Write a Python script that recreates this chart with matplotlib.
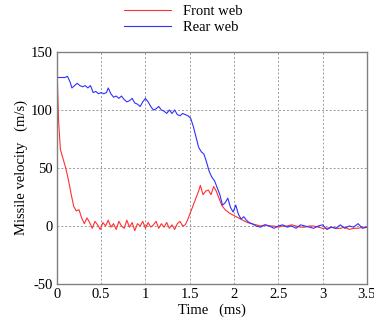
import numpy as np
import matplotlib.pyplot as plt

plt.rcParams['font.family'] = 'Liberation Serif'
plt.rcParams['axes.unicode_minus'] = False

# front web (red)
t_front = [0, 0.005, 0.02, 0.04, 0.07, 0.10, 0.13, 0.16, 0.19, 0.22, 0.25, 0.28, 0.31, 0.34,
           0.37, 0.40, 0.43, 0.46, 0.49, 0.52, 0.55, 0.58, 0.61, 0.64, 0.67, 0.70, 0.73, 0.76,
           0.79, 0.82, 0.85, 0.88, 0.91, 0.94, 0.97, 1.00, 1.03, 1.06, 1.09, 1.12, 1.15, 1.18,
           1.21, 1.24, 1.27, 1.30, 1.33, 1.36, 1.39, 1.42, 1.45, 1.48, 1.52, 1.56, 1.60, 1.62,
           1.65, 1.68, 1.71, 1.74, 1.77, 1.80, 1.83, 1.86, 1.90, 1.95, 2.00, 2.05, 2.10, 2.15,
           2.20, 2.25]
v_front = [128, 128, 90, 66, 58, 50, 40, 28, 17, 13, 14, 7, 2, 7,
           3, -2, 4, 1, -3, 3, 0, 5, -1, 2, -3, 4, 0, -2,
           5, -1, 3, -4, 2, 0, 4, -2, 3, -1, 1, 4, -2, 2,
           -1, 3, -2, 1, -3, 2, 4, 0, 1, 6, 14, 22, 30, 35,
           27, 30, 31, 27, 34, 30, 24, 18, 14, 11, 9, 7, 5, 3,
           2, 1]

# rear web (blue)
t_rear = [0, 0.03, 0.06, 0.09, 0.12, 0.15, 0.17, 0.20, 0.23, 0.26, 0.29, 0.32, 0.35, 0.38,
          0.41, 0.44, 0.47, 0.50, 0.53, 0.56, 0.58, 0.61, 0.64, 0.67, 0.70, 0.73, 0.76, 0.79,
          0.82, 0.85, 0.88, 0.91, 0.94, 0.97, 1.00, 1.03, 1.06, 1.09, 1.12, 1.15, 1.18, 1.21,
          1.24, 1.27, 1.30, 1.33, 1.36, 1.39, 1.42, 1.45, 1.48, 1.51, 1.54, 1.57, 1.60, 1.63,
          1.66, 1.69, 1.72, 1.75, 1.78, 1.81, 1.84, 1.87, 1.90, 1.93, 1.96, 1.99, 2.02, 2.05,
          2.08, 2.11, 2.14, 2.17, 2.20, 2.25]
v_rear = [128, 128, 128, 128, 129, 124, 119, 121, 123, 121, 120, 121, 119, 121,
          115, 116, 114, 115, 114, 115, 119, 114, 111, 112, 110, 112, 109, 107,
          108, 110, 106, 105, 103, 107, 110, 107, 103, 100, 101, 103, 100, 99,
          97, 100, 97, 100, 96, 95, 97, 96, 95, 93, 86, 77, 68, 64,
          62, 55, 47, 42, 39, 33, 27, 18, 20, 24, 16, 12, 18, 10,
          6, 8, 5, 3, 2, 0]

# shared tail 2.3 - 3.5 ms
t_tail = [2.30, 2.35, 2.40, 2.45, 2.50, 2.55, 2.60, 2.65, 2.70, 2.75, 2.80, 2.85, 2.90,
          2.95, 3.00, 3.05, 3.10, 3.15, 3.20, 3.25, 3.30, 3.35, 3.40, 3.45, 3.50]
rear_tail = [-1, 1, 0, -2, 0, 1, -1, 0, -2, 1, 0, -1, -2, 0, 1, -3, -1, -2, 1, -2, 0, -1, 2, -2, -1]
front_tail = [0, 1, 0, 0, -1, 0, 0, 1, 0, -1, -1, 0, 0, -1, -2, -2, -1, -2, -2, -1, -3, -2, -2, -1, -1]

fig = plt.figure(figsize=(3.74, 3.31), dpi=100)
ax = fig.add_axes([0.152, 0.142, 0.829, 0.701])

ax.plot(t_front + t_tail, v_front + front_tail, color='#ff3030', lw=0.8, label='Front web')
ax.plot(t_rear + t_tail, v_rear + rear_tail, color='#3030ff', lw=0.8, label='Rear web')

ax.set_xlim(0, 3.5)
ax.set_ylim(-50, 150)
ax.set_xticks([0, 0.5, 1, 1.5, 2, 2.5, 3, 3.5])
ax.set_xticklabels(['0', '0.5', '1', '1.5', '2', '2.5', '3', '3.5'])
ax.set_yticks([-50, 0, 50, 100, 150])
ax.grid(True, color='#999999', linestyle=(0, (2, 2)), lw=0.7)
ax.tick_params(length=0, labelsize=10.5, pad=3)
for s in ax.spines.values():
    s.set_color('#808080')
    s.set_linewidth(1.0)

ax.set_xlabel('Time   (ms)', fontsize=10.5, labelpad=2)
ax.set_ylabel('Missile velocity   (m/s)', fontsize=10.5, labelpad=2)

fig.legend(loc='upper center', bbox_to_anchor=(0.49, 1.025), frameon=False, fontsize=10.5,
           handlelength=3.2, labelspacing=0.2)

plt.savefig('out.png', dpi=100)
